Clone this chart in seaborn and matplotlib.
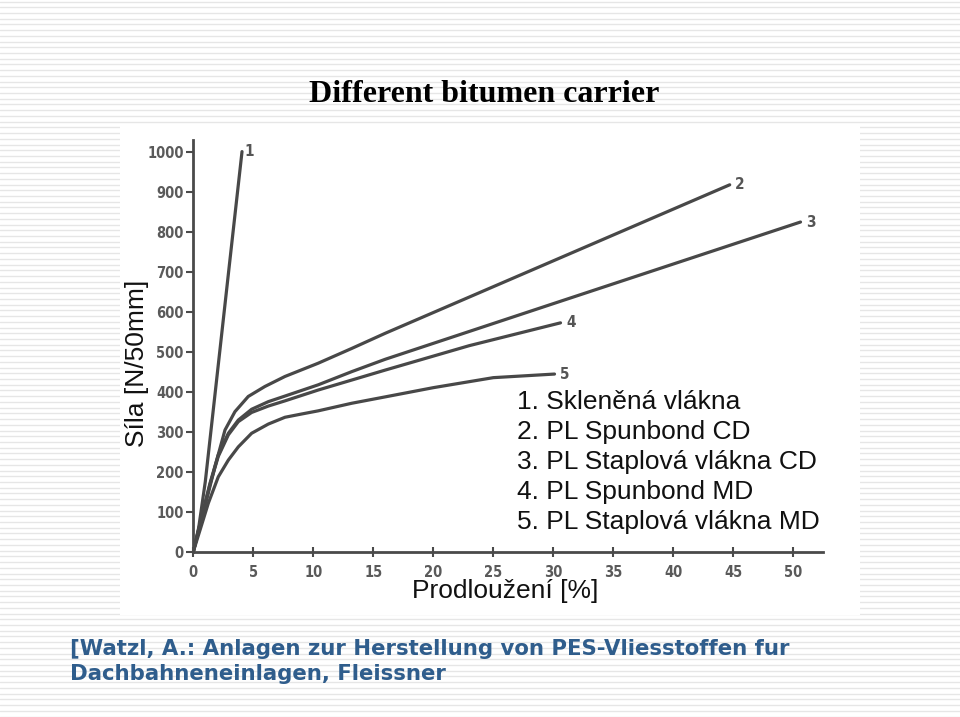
import numpy as np
import pandas as pd
import matplotlib
matplotlib.use("Agg")
import matplotlib.pyplot as plt
import seaborn as sns
from matplotlib.patches import Rectangle

# ---- data ----
x1 = [0, 0.45, 1.0, 2.0, 3.0, 4.06]
y1 = [0, 60, 175, 445, 715, 1000]
x2 = [0, 0.97, 1.8, 2.64, 3.47, 4.58, 5.97, 7.64, 10.4, 13.2, 16, 30, 44.7]
y2 = [0, 113, 212, 304, 350, 388, 413, 438, 471, 508, 546, 727, 917]
x3 = [0, 0.69, 1.39, 2.08, 2.92, 3.75, 4.86, 6.25, 7.64, 10.4, 13.2, 16, 30, 50.6]
y3 = [0, 87, 171, 242, 296, 329, 356, 375, 389, 417, 450, 481, 620, 824]
x4 = [0, 0.69, 1.39, 2.08, 2.92, 3.75, 4.86, 6.25, 7.64, 10.4, 13.2, 16, 23, 30.6]
y4 = [0, 85, 168, 238, 292, 325, 348, 364, 377, 404, 429, 454, 515, 572]
x5 = [0, 0.56, 1.25, 2.08, 2.92, 3.75, 4.86, 6.25, 7.64, 9.0, 10.4, 13.2, 16, 20, 25, 30.1]
y5 = [0, 54, 121, 187, 229, 262, 296, 319, 336, 344, 352, 371, 387, 410, 435, 444]
curve_ids = ["1", "2", "3", "4", "5"]
legend_lines = ["1. Skleněná vlákna", "2. PL Spunbond CD", "3. PL Staplová vlákna CD",
                "4. PL Spunbond MD", "5. PL Staplová vlákna MD"]
xticks = list(range(0, 55, 5))
yticks = list(range(0, 1100, 100))
title = "Different bitumen carrier"
xlabel = "Prodloužení [%]"
ylabel = "Síla [N/50mm]"
citation = ["[Watzl, A.: Anlagen zur Herstellung von PES-Vliesstoffen fur",
            "Dachbahneneinlagen, Fleissner"]

sns.set_theme(style="ticks")
plt.rcParams['font.family'] = ['DejaVu Sans']

W, H = 960, 717
fig = plt.figure(figsize=(W / 100, H / 100), dpi=100)
fig.patch.set_facecolor("white")

# background slide with horizontal stripes
bg = fig.add_axes([0, 0, 1, 1])
bg.set_xlim(0, W)
bg.set_ylim(H, 0)
bg.axis("off")
for yy in np.arange(1.5, H, 5.72):
    bg.axhline(yy, color="#e6e6e6", lw=1.0, zorder=0)
bg.add_patch(Rectangle((120, 125), 740, 490, facecolor="white", edgecolor="none", zorder=1))

# main chart
ax = fig.add_axes([193.3 / W, 1 - 551.7 / H, 630 / W, 411.7 / H])
ax.patch.set_alpha(0)
line_col = "#484848"
series = [(x1, y1), (x2, y2), (x3, y3), (x4, y4), (x5, y5)]
label_off = [(2, 0), (4, 0), (4, 0), (4, 0), (4, 0)]
for (xs, ys), cid, off in zip(series, curve_ids, label_off):
    df = pd.DataFrame({"x": xs, "y": ys})
    sns.lineplot(data=df, x="x", y="y", ax=ax, color=line_col, lw=2.3,
                 sort=False, estimator=None, solid_joinstyle="round",
                 solid_capstyle="round")
    ax.annotate(cid, (xs[-1], ys[-1]), xytext=off, textcoords="offset points",
                ha="left", va="center", fontsize=11, fontweight="bold",
                fontstretch="condensed", color="#555555")

ax.set_xlim(0, 52.5)
ax.set_ylim(0, 1029)
ax.set_xticks(xticks)
ax.set_yticks(yticks)
ax.set_xlabel("")
ax.set_ylabel("")
for s in ["top", "right"]:
    ax.spines[s].set_visible(False)
for s in ["left", "bottom"]:
    ax.spines[s].set_color("#4a4a4a")
    ax.spines[s].set_linewidth(2)
ax.tick_params(axis="y", direction="out", length=5, width=1.5, color="#4a4a4a", pad=2)
ax.tick_params(axis="x", direction="inout", length=7, width=1.5, color="#4a4a4a", pad=6)
for lab in ax.get_xticklabels() + ax.get_yticklabels():
    lab.set_fontsize(10.5)
    lab.set_fontweight("bold")
    lab.set_fontstretch("condensed")
    lab.set_color("#5a5a5a")

# chart texts
fs_sans = 19
fig.text(137 / W, 1 - 363 / H, ylabel, rotation=90, ha="center", va="center",
         fontsize=fs_sans, family="Liberation Sans", color="#111111")
fig.text(505 / W, 1 - 591 / H, xlabel, ha="center", va="center",
         fontsize=fs_sans, family="Liberation Sans", color="#111111")
for i, t in enumerate(legend_lines):
    fig.text(517 / W, 1 - (402 + 30 * i) / H, t, ha="left", va="center",
             fontsize=fs_sans, family="Liberation Sans", color="#111111")

fig.text(484 / W, 1 - 94 / H, title, ha="center", va="center", fontsize=23,
         fontweight="bold", family="Liberation Serif", color="black")
cit_col = "#2f5d8c"
fig.text(70 / W, 1 - 649 / H, citation[0], ha="left", va="center", fontsize=15.3,
         fontweight="bold", color=cit_col)
fig.text(70 / W, 1 - 674 / H, citation[1], ha="left", va="center", fontsize=15.3,
         fontweight="bold", color=cit_col)

fig.savefig("out.png", dpi=100, facecolor="white")
